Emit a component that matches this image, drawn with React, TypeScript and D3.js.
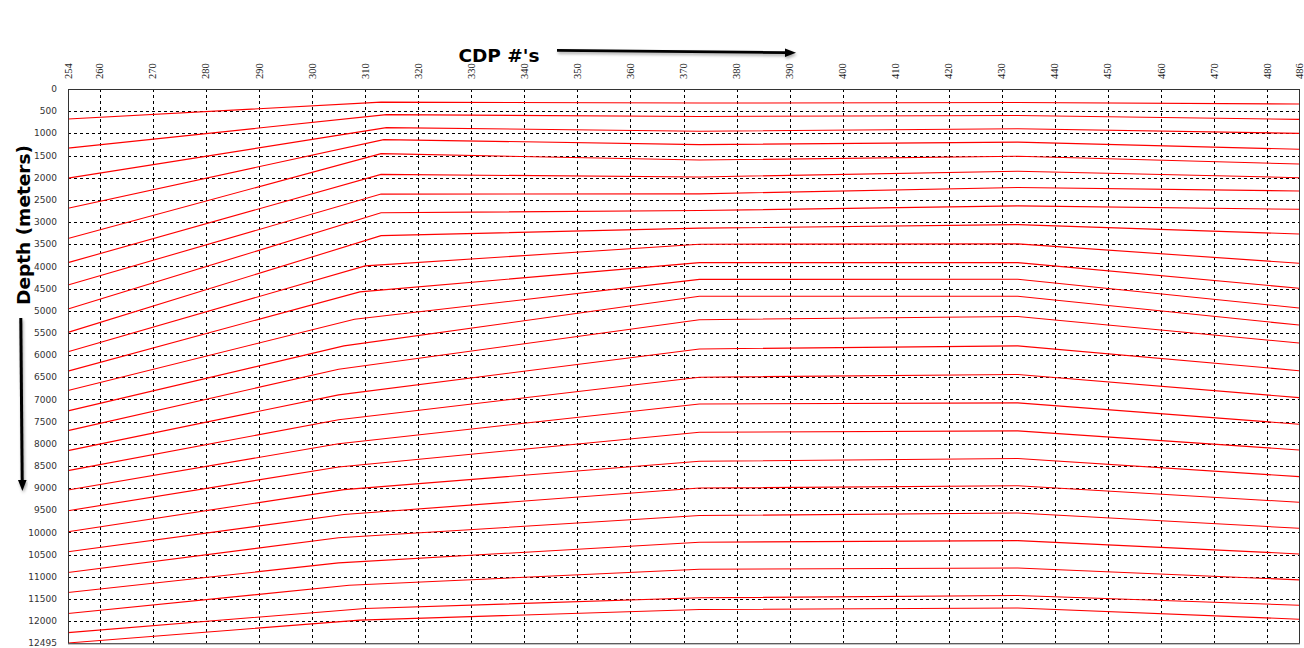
import React from "react";
import * as d3 from "d3";

// ---- Data ----
const cdpTicks = [254, 260, 270, 280, 290, 300, 310, 320, 330, 340, 350, 360, 370, 380, 390, 400, 410, 420, 430, 440, 450, 460, 470, 480, 486];
const depthTicks = [0, 500, 1000, 1500, 2000, 2500, 3000, 3500, 4000, 4500, 5000, 5500, 6000, 6500, 7000, 7500, 8000, 8500, 9000, 9500, 10000, 10500, 11000, 11500, 12000, 12495];

// Depth (m) of each of the 25 horizons at the left edge (CDP 254)
const depthAt254 = [678, 1333, 2011, 2688, 3373, 3916, 4420, 4962, 5489, 5926, 6363, 6801, 7260, 7705, 8157, 8608, 9045, 9512, 9986, 10438, 10905, 11357, 11831, 12260, 12495];
// Where each horizon bends (CDP) and its depth there
const kinkCdp = [313, 314, 314, 313.5, 313, 313, 313, 313, 313, 310, 309, 308, 306, 305, 305, 305, 305, 305, 306, 306, 305, 305, 307, 310, 309];
const kinkDepth = [296, 578, 872, 1141, 1457, 1926, 2370, 2792, 3308, 3990, 4575, 5192, 5794, 6320, 6898, 7460, 8000, 8525, 9035, 9597, 10120, 10688, 11193, 11716, 11978];
// Depth at the crest shoulders and the right edge
const depthAt373 = [317, 619, 952, 1254, 1603, 1984, 2365, 2742, 3138, 3500, 3917, 4294, 4675, 5203, 5863, 6500, 7103, 7742, 8397, 9000, 9621, 10222, 10833, 11476, 11740];
const depthAt433 = [304, 599, 895, 1199, 1518, 1854, 2221, 2637, 3060, 3492, 3915, 4290, 4674, 5130, 5793, 6440, 7079, 7710, 8333, 8949, 9564, 10187, 10802, 11425, 11705];
const depthAt486 = [338, 684, 1000, 1360, 1691, 2000, 2300, 2713, 3270, 3931, 4494, 4940, 5324, 5730, 6353, 6960, 7560, 8141, 8742, 9321, 9907, 10486, 11072, 11643, 11958];

type Pt = { cdp: number; depth: number };
const horizons: Pt[][] = depthAt254.map((d, i) => [
  { cdp: 254, depth: d },
  { cdp: kinkCdp[i], depth: kinkDepth[i] },
  { cdp: 373, depth: depthAt373[i] },
  { cdp: 433, depth: depthAt433[i] },
  { cdp: 486, depth: depthAt486[i] },
]);

export default function App() {
  const W = 1304;
  const H = 648;
  const left = 68;
  const right = 1299;
  const top = 89;
  const bottom = 643;

  const x = d3.scaleLinear().domain([254, 486]).range([left, right]);
  const y = d3.scaleLinear().domain([0, 12495]).range([top, bottom]);

  const line = d3
    .line<Pt>()
    .x((d) => x(d.cdp))
    .y((d) => y(d.depth));

  const crisp = (v: number) => Math.round(v) + 0.5;

  return (
    <div style={{ position: "fixed", left: 0, top: 0, width: W, height: H, background: "#fff" }}>
      <svg width={W} height={H} viewBox={`0 0 ${W} ${H}`} style={{ display: "block" }}>
        <defs>
          <filter id="shadow" x="-10%" y="-50%" width="120%" height="200%">
            <feDropShadow dx="1" dy="2" stdDeviation="1.5" floodColor="#000" floodOpacity="0.35" />
          </filter>
        </defs>
        <rect x={0} y={0} width={W} height={H} fill="#fff" />

        {/* grid */}
        <g stroke="#000" strokeWidth={1} strokeDasharray="3,3" fill="none">
          {cdpTicks
            .filter((t) => t !== 254 && t !== 486)
            .map((t) => (
              <line key={"v" + t} x1={crisp(x(t))} x2={crisp(x(t))} y1={top} y2={bottom} />
            ))}
          {depthTicks
            .filter((t) => t !== 0 && t !== 12495)
            .map((t) => (
              <line key={"h" + t} x1={left} x2={right} y1={crisp(y(t))} y2={crisp(y(t))} />
            ))}
        </g>

        {/* horizons */}
        <g fill="none" stroke="#ff0000" strokeWidth={1.1}>
          {horizons.map((h, i) => (
            <path key={i} d={line(h) || ""} />
          ))}
        </g>

        {/* frame */}
        <rect
          x={left + 0.5}
          y={top + 0.5}
          width={right - left}
          height={bottom - top}
          fill="none"
          stroke="#333"
          strokeWidth={1}
        />
        <line x1={left} x2={right + 1} y1={bottom + 1} y2={bottom + 1} stroke="#888" strokeWidth={1} />

        {/* top tick labels */}
        <g fontFamily="'Liberation Serif', 'DejaVu Serif', serif" fontSize={10.5} fill="#222">
          {cdpTicks.map((t) => (
            <text
              key={"tl" + t}
              transform={`translate(${x(t) + 3.5},79) rotate(-90)`}
              textAnchor="start"
            >
              {t}
            </text>
          ))}
        </g>

        {/* left tick labels */}
        <g fontFamily="'DejaVu Sans', Verdana, sans-serif" fontSize={9} fill="#333">
          {depthTicks.map((t) => (
            <text key={"dl" + t} x={57} y={y(t)} dy="0.35em" textAnchor="end">
              {t}
            </text>
          ))}
        </g>

        {/* CDP title + arrow */}
        <text
          x={499}
          y={61.5}
          textAnchor="middle"
          fontFamily="'DejaVu Sans', Verdana, sans-serif"
          fontWeight="bold"
          fontSize={18.5}
          fill="#000"
        >
          CDP #'s
        </text>
        <g filter="url(#shadow)">
          <line x1={557} y1={50.3} x2={786} y2={52.6} stroke="#000" strokeWidth={2.8} />
          <polygon points="796,52.8 785,48.5 785,57" fill="#000" />
        </g>

        {/* Depth title + arrow */}
        <text
          transform="translate(29.5,225) rotate(-90)"
          textAnchor="middle"
          fontFamily="'DejaVu Sans', Verdana, sans-serif"
          fontWeight="bold"
          fontSize={18.5}
          fill="#000"
        >
          Depth (meters)
        </text>
        <g filter="url(#shadow)">
          <line x1={20.8} y1={318} x2={22.2} y2={481} stroke="#000" strokeWidth={3} />
          <polygon points="22.4,491 18,480 26.6,480" fill="#000" />
        </g>
      </svg>
    </div>
  );
}
